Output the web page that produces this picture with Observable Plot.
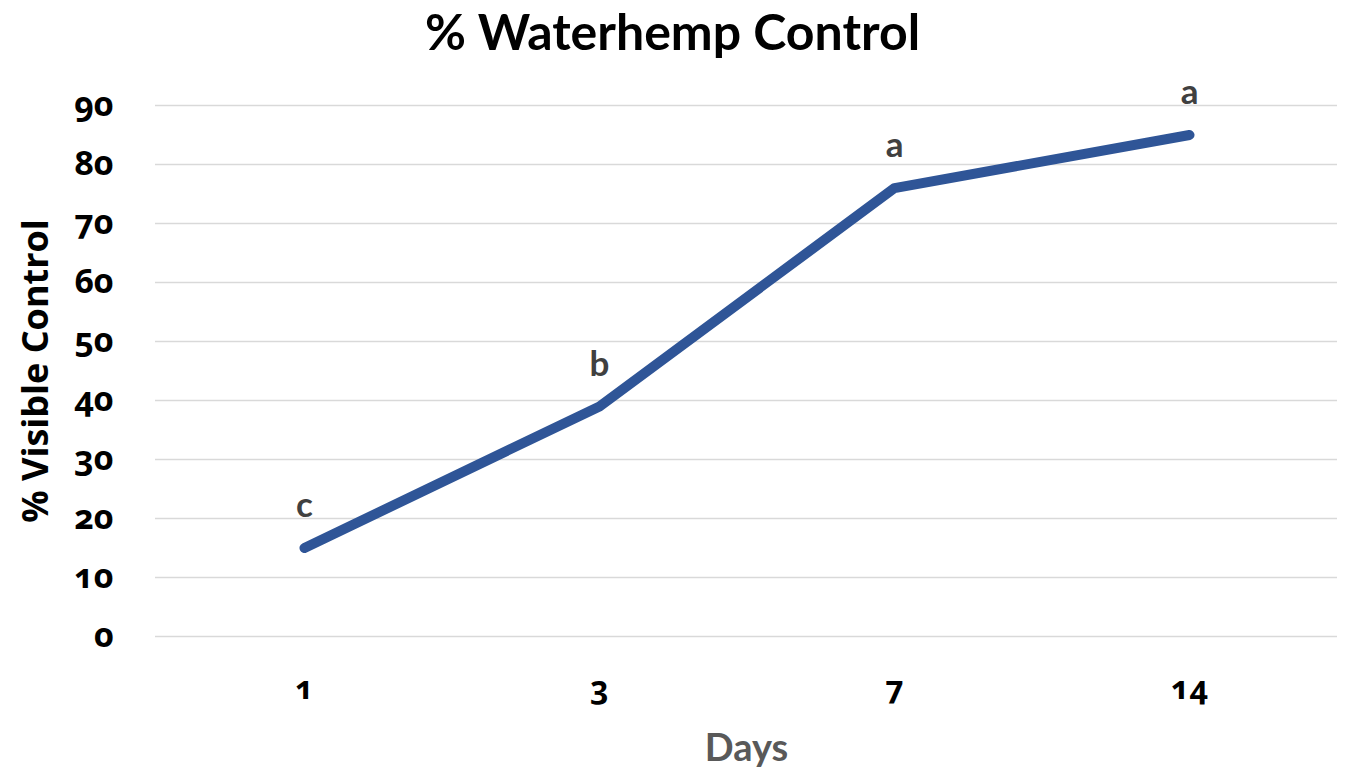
<!DOCTYPE html>
<html><head><meta charset="utf-8">
<script src="https://cdn.jsdelivr.net/npm/d3@7"></script>
<script src="https://cdn.jsdelivr.net/npm/@observablehq/plot@0.6"></script>
<style>
body{margin:0;background:#fff;width:1365px;height:776px;overflow:hidden}
#title{height:65px;text-align:center;font-family:Lato,"Open Sans",sans-serif;font-weight:bold;font-size:50px;line-height:62px;color:#000;padding-right:20px;box-sizing:border-box;white-space:nowrap}
#chart svg{display:block}
.onum text, text.onum{font-variant-numeric:oldstyle-nums;font-feature-settings:"onum" 1}
</style></head>
<body>
<div id="title">% Waterhemp Control</div>
<div id="chart"></div>
<script>
const days = ["1", "3", "7", "14"];
const control = [15, 39, 76, 85];
const letters = ["c", "b", "a", "a"];
const yTicks = [0, 10, 20, 30, 40, 50, 60, 70, 80, 90];

const data = days.map((d, i) => ({day: d, value: control[i], letter: letters[i]}));

const plot = Plot.plot({
  width: 1365,
  height: 711,
  marginTop: 40,
  marginBottom: 140,
  marginLeft: 155,
  marginRight: 28,
  x: {type: "point", domain: days, padding: 0.5},
  y: {domain: [0, 90]},
  style: {background: "#fff", overflow: "visible"},
  marks: [
    Plot.gridY(yTicks, {stroke: "#d9d9d9", strokeOpacity: 1, strokeWidth: 1.5}),
    Plot.axisY(yTicks, {
      tickSize: 0, tickPadding: 42, fontSize: 34, fontWeight: "bold",
      fontFamily: "'Open Sans', Lato, sans-serif", fill: "#000",
      className: "onum", label: null
    }),
    Plot.text(["% Visible Control"], {
      frameAnchor: "left", textAnchor: "middle", dx: -119, rotate: -90, text: d => d,
      fontSize: 36, fontWeight: "bold", fill: "#000",
      fontFamily: "'Open Sans', Lato, sans-serif"
    }),
    Plot.axisX({
      tickSize: 0, tickPadding: 40, fontSize: 32, fontWeight: "bold",
      fontFamily: "'Open Sans', Lato, sans-serif", fill: "#000",
      className: "onum", label: null
    }),
    Plot.text(["Days"], {
      frameAnchor: "bottom", dy: 124, text: d => d,
      fontSize: 38, fontWeight: "bold", fill: "#595959",
      fontFamily: "Lato, 'Open Sans', sans-serif"
    }),
    Plot.line(data, {x: "day", y: "value", stroke: "#2F5597", strokeWidth: 10, strokeLinecap: "round", strokeLinejoin: "round"}),
    Plot.text(data, {x: "day", y: "value", text: "letter", dy: -42, fontSize: 35, fontWeight: "bold", fill: "#404040", fontFamily: "Lato, 'Open Sans', sans-serif"})
  ]
});
document.getElementById("chart").appendChild(plot);
</script>
</body></html>
